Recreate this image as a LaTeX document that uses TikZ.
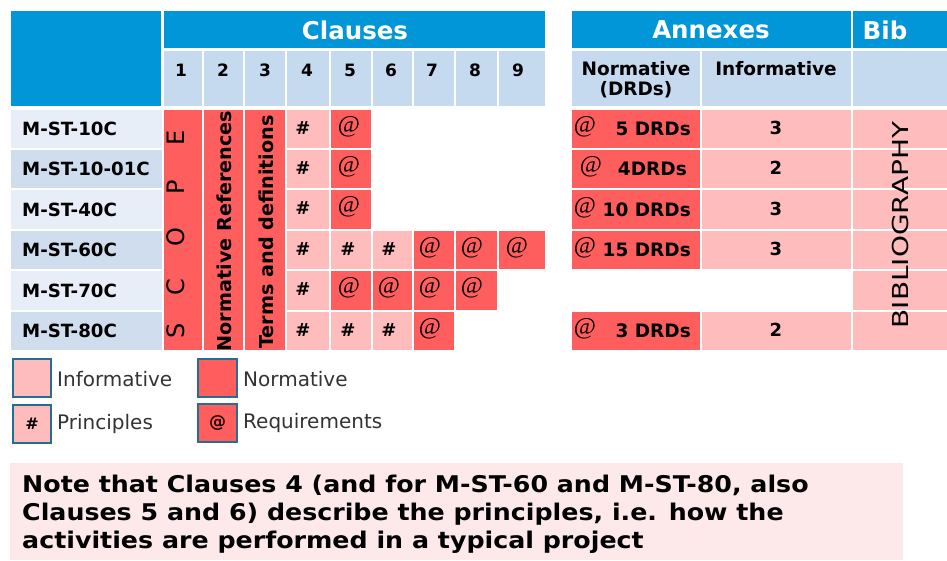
\documentclass[tikz,border=0pt]{standalone}
\usepackage{fontspec}
\setmainfont{DejaVu Sans}
\newfontfamily\serifat{Liberation Serif}
\definecolor{hdrblue}{HTML}{0096D7}
\definecolor{subblue}{HTML}{C5D9EF}
\definecolor{rowlight}{HTML}{E8EEF7}
\definecolor{rowdark}{HTML}{CFDDEE}
\definecolor{normred}{HTML}{FF5E5E}
\definecolor{infopink}{HTML}{FFBCBC}
\definecolor{legendedge}{HTML}{256F8E}
\definecolor{notebg}{HTML}{FDE9E9}
\definecolor{legendtext}{HTML}{333333}
\newcommand{\setfs}[1]{\fontsize{#1}{#1}\selectfont}
% table cell: x1 y1 x2 y2 fill
\newcommand{\cellrect}[5]{\path[fill=#5,draw=white,line width=1.2pt] (#1,#2) rectangle (#3,#4);}
\begin{document}
\begin{tikzpicture}[x=1pt,y=-1pt,
  bandtext/.style={text=white,font=\setfs{24.5}\bfseries,inner sep=0pt},
  numtext/.style={font=\setfs{17}\bfseries,inner sep=0pt},
  subhead/.style={font=\fontsize{18.5}{20}\selectfont\bfseries,align=center,inner sep=0pt},
  rowlabel/.style={anchor=west,font=\setfs{18.2}\bfseries,inner sep=0pt},
  hashmark/.style={font=\setfs{18}\bfseries,inner sep=0pt},
  atmark/.style={font=\serifat\setfs{24},inner sep=0pt},
  drdtext/.style={anchor=east,font=\setfs{18.5}\bfseries,inner sep=0pt},
  scopeletter/.style={rotate=90,font=\setfs{24},inner sep=0pt},
  verttext/.style={rotate=90,font=\setfs{19.2}\bfseries,inner sep=0pt},
  legendbox/.style={draw=legendedge,line width=1.8pt},
  legendlabel/.style={anchor=west,font=\setfs{20},text=legendtext,inner sep=0pt},
  notetext/.style={anchor=base west,font=\setfs{23}\bfseries,inner sep=0pt}]
\useasboundingbox (0,0) rectangle (947,560);

% ---------- header ----------
\cellrect{10}{10}{162}{107}{hdrblue}
\cellrect{163}{10}{546}{49}{hdrblue}
\cellrect{571}{10}{852}{49}{hdrblue}
\cellrect{852}{10}{948}{49}{hdrblue}
\foreach \a/\b in {163/203,203/244,244/286,286/330,330/372,372/413,413/455,455/498,498/546}
  {\cellrect{\a}{50}{\b}{107}{subblue}}
\cellrect{571}{50}{701}{107}{subblue}
\cellrect{701}{50}{852}{107}{subblue}
\cellrect{852}{50}{948}{107}{subblue}

\node[bandtext] (clauses) at (355,30) {Clauses};
\node[bandtext] (annexes) at (711,30) {Annexes};
\node[bandtext] (bib) at (885,30) {Bib};
\node[numtext] (n1) at (181,70) {1};
\node[numtext] (n2) at (223,70) {2};
\node[numtext] (n3) at (265,70) {3};
\node[numtext] (n4) at (307,70) {4};
\node[numtext] (n5) at (350,70) {5};
\node[numtext] (n6) at (391,70) {6};
\node[numtext] (n7) at (432,70) {7};
\node[numtext] (n8) at (475,70) {8};
\node[numtext] (n9) at (518,70) {9};
\node[subhead,anchor=north] (annexnorm) at (636,61) {Normative\\(DRDs)};
\node[subhead,anchor=north] (annexinfo) at (776,61) {Informative};

% ---------- row labels ----------
\cellrect{10}{109}{163}{149}{rowlight}
\cellrect{10}{149}{163}{189}{rowdark}
\cellrect{10}{189}{163}{230}{rowlight}
\cellrect{10}{230}{163}{270}{rowdark}
\cellrect{10}{270}{163}{311}{rowlight}
\cellrect{10}{311}{163}{351}{rowdark}
\node[rowlabel] (r1) at (22,129) {M-ST-10C};
\node[rowlabel] (r2) at (22,169) {M-ST-10-01C};
\node[rowlabel] (r3) at (22,209.5) {M-ST-40C};
\node[rowlabel] (r4) at (22,250) {M-ST-60C};
\node[rowlabel] (r5) at (22,290.5) {M-ST-70C};
\node[rowlabel] (r6) at (22,331) {M-ST-80C};

% ---------- clauses 1-3 (merged columns) ----------
\cellrect{163}{109}{203}{351}{normred}
\cellrect{203}{109}{244}{351}{normred}
\cellrect{244}{109}{286}{351}{normred}
\node[scopeletter] (sS) at (176,331) {S};
\node[scopeletter] (sC) at (176,287) {C};
\node[scopeletter] (sO) at (176,237) {O};
\node[scopeletter] (sP) at (176,187) {P};
\node[scopeletter] (sE) at (176,138) {E};
\node[verttext] (normref) at (224,231) {Normative References};
\node[verttext] (termdef) at (266,232) {Terms and definitions};

% ---------- clauses 4-9 ----------
\foreach \t/\b in {109/149,149/189,189/230,230/270,270/311,311/351}
  {\cellrect{286}{\t}{330}{\b}{infopink}}
\cellrect{330}{109}{372}{149}{normred}
\cellrect{330}{149}{372}{189}{normred}
\cellrect{330}{189}{372}{230}{normred}
\cellrect{330}{230}{372}{270}{infopink}
\cellrect{330}{270}{372}{311}{normred}
\cellrect{330}{311}{372}{351}{infopink}
\cellrect{372}{230}{413}{270}{infopink}
\cellrect{372}{270}{413}{311}{normred}
\cellrect{372}{311}{413}{351}{infopink}
\cellrect{413}{230}{455}{270}{normred}
\cellrect{413}{270}{455}{311}{normred}
\cellrect{413}{311}{455}{351}{normred}
\cellrect{455}{230}{498}{270}{normred}
\cellrect{455}{270}{498}{311}{normred}
\cellrect{498}{230}{546}{270}{normred}

\node[hashmark] (h41) at (303,128) {\#};
\node[hashmark] (h42) at (303,168) {\#};
\node[hashmark] (h43) at (303,208) {\#};
\node[hashmark] (h44) at (303,249) {\#};
\node[hashmark] (h45) at (303,289) {\#};
\node[hashmark] (h46) at (303,330) {\#};
\node[atmark] (a51) at (349,127) {@};
\node[atmark] (a52) at (349,167) {@};
\node[atmark] (a53) at (349,207) {@};
\node[hashmark] (h54) at (348,249) {\#};
\node[atmark] (a55) at (349,288) {@};
\node[hashmark] (h56) at (348,330) {\#};
\node[hashmark] (h64) at (389,249) {\#};
\node[atmark] (a65) at (389,288) {@};
\node[hashmark] (h66) at (389,330) {\#};
\node[atmark] (a74) at (430,248) {@};
\node[atmark] (a75) at (430,288) {@};
\node[atmark] (a76) at (430,329) {@};
\node[atmark] (a84) at (472,248) {@};
\node[atmark] (a85) at (472,288) {@};
\node[atmark] (a94) at (517,248) {@};

% ---------- annexes ----------
\foreach \t/\b in {109/149,149/189,189/230,230/270,311/351}
  {\cellrect{571}{\t}{701}{\b}{normred}
   \cellrect{701}{\t}{852}{\b}{infopink}}
\foreach \t/\b in {109/149,149/189,189/230,230/270,270/311,311/351}
  {\cellrect{852}{\t}{948}{\b}{infopink}}

\node[atmark] (an1) at (585,127) {@};
\node[drdtext] (d1) at (691,129) {5 DRDs};
\node[atmark] (an2) at (591,167) {@};
\node[drdtext] (d2) at (687,169) {4DRDs};
\node[atmark] (an3) at (585,208) {@};
\node[drdtext] (d3) at (691,209.5) {10 DRDs};
\node[atmark] (an4) at (585,248) {@};
\node[drdtext] (d4) at (691,250) {15 DRDs};
\node[atmark] (an6) at (585,329) {@};
\node[drdtext] (d6) at (691,331) {3 DRDs};
\node[numtext,font=\setfs{18}\bfseries] (i1) at (776,128) {3};
\node[numtext,font=\setfs{18}\bfseries] (i2) at (776,168) {2};
\node[numtext,font=\setfs{18}\bfseries] (i3) at (776,208.5) {3};
\node[numtext,font=\setfs{18}\bfseries] (i4) at (776,249) {3};
\node[numtext,font=\setfs{18}\bfseries] (i6) at (776,330) {2};
\node[rotate=90,inner sep=0pt] (biblio) at (900,225)
  {\scalebox{1.27}[1]{\setfs{22}BIBLIOGRAPHY}};

% ---------- legend ----------
\path[legendbox,fill=infopink] (13,359) rectangle (51,397);
\path[legendbox,fill=normred] (198,359) rectangle (237,397);
\path[legendbox,fill=infopink] (13,405) rectangle (51,443);
\path[legendbox,fill=normred] (198,404) rectangle (237,442);
\node[legendlabel] (lg1) at (57,379) {Informative};
\node[legendlabel] (lg2) at (243,379) {Normative};
\node[hashmark,font=\setfs{16}\bfseries] (lg3mark) at (32,424) {\#};
\node[legendlabel] (lg3) at (57,424) {Principles};
\node[inner sep=0pt,font=\setfs{17}\bfseries,text=black!85!red] (lg4mark) at (217.5,423) {@};
\node[legendlabel] (lg4) at (243,423) {Requirements};

% ---------- note ----------
\fill[notebg] (10,463) rectangle (903,560);
\node[notetext] (note1) at (22,492) {\scalebox{1.1}[1]{Note that Clauses 4 (and for M-ST-60 and M-ST-80, also}};
\node[notetext] (note2) at (22,520) {\scalebox{1.1}[1]{Clauses 5 and 6) describe the principles, i.e. how the}};
\node[notetext] (note3) at (22,548) {\scalebox{1.1}[1]{activities are performed in a typical project}};
\end{tikzpicture}
\end{document}
